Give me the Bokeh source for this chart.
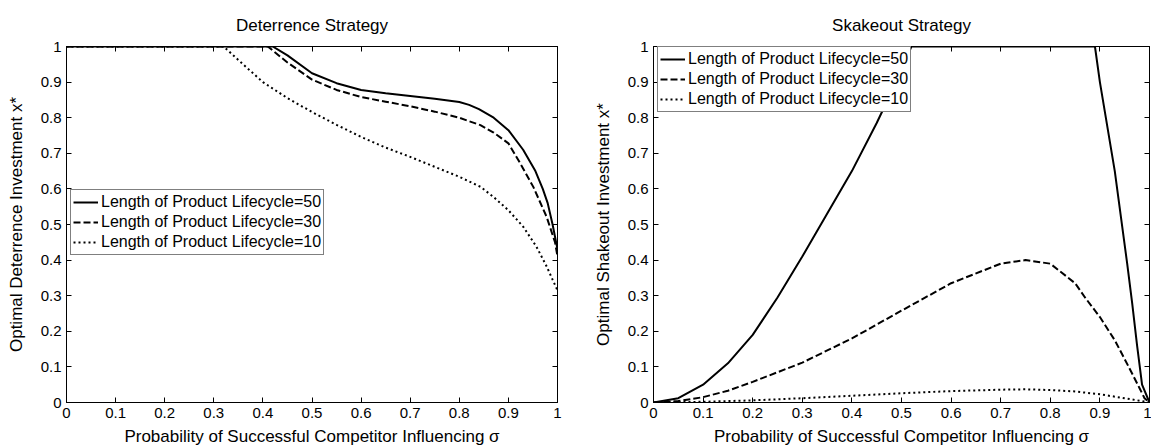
from bokeh.plotting import figure
from bokeh.layouts import row
from bokeh.models import LinearAxis, FixedTicker, NumeralTickFormatter, Legend, LegendItem, Range1d
from bokeh.embed import file_html
from bokeh.resources import INLINE

FONT = "Liberation Sans"

# ---- tick values ----
tick_values = [0, 0.1, 0.2, 0.3, 0.4, 0.5, 0.6, 0.7, 0.8, 0.9, 1.0]

# ---- Deterrence strategy ----
det_sigma_50 = [0, 0.42, 0.45, 0.5, 0.55, 0.6, 0.65, 0.7, 0.75, 0.8, 0.82, 0.84, 0.87, 0.9, 0.93, 0.955, 0.97, 0.98, 0.99, 1.0]
det_x_50 = [1, 1, 0.975, 0.925, 0.897, 0.878, 0.869, 0.861, 0.853, 0.844, 0.836, 0.824, 0.80, 0.765, 0.71, 0.65, 0.60, 0.56, 0.50, 0.43]

det_sigma_30 = [0, 0.41, 0.45, 0.5, 0.55, 0.6, 0.65, 0.7, 0.75, 0.8, 0.843, 0.87, 0.9, 0.924, 0.951, 0.978, 0.995, 1.0]
det_x_30 = [1, 1, 0.955, 0.907, 0.878, 0.858, 0.845, 0.832, 0.817, 0.80, 0.779, 0.758, 0.728, 0.672, 0.605, 0.521, 0.45, 0.41]

det_sigma_10 = [0, 0.32, 0.35, 0.4, 0.45, 0.5, 0.55, 0.6, 0.65, 0.7, 0.75, 0.8, 0.843, 0.87, 0.9, 0.93, 0.957, 0.978, 0.99, 1.0]
det_x_10 = [1, 1, 0.962, 0.90, 0.855, 0.816, 0.78, 0.746, 0.716, 0.69, 0.662, 0.634, 0.606, 0.577, 0.54, 0.494, 0.438, 0.382, 0.345, 0.315]

# ---- Shakeout strategy ----
sk_sigma_50 = [0, 0.05, 0.1, 0.15, 0.2, 0.25, 0.3, 0.35, 0.4, 0.45, 0.475, 0.5, 0.52, 0.89, 0.9, 0.93, 0.955, 0.965, 0.975, 0.985, 1.0]
sk_x_50 = [0, 0.012, 0.05, 0.11, 0.19, 0.295, 0.41, 0.53, 0.65, 0.785, 0.858, 0.935, 1.0, 1.0, 0.90, 0.65, 0.39, 0.28, 0.16, 0.05, 0]

sk_sigma_30 = [0, 0.05, 0.1, 0.15, 0.2, 0.3, 0.4, 0.5, 0.6, 0.7, 0.75, 0.8, 0.85, 0.87, 0.9, 0.93, 0.96, 0.98, 0.99, 1.0]
sk_x_30 = [0, 0.004, 0.015, 0.033, 0.058, 0.112, 0.18, 0.258, 0.335, 0.39, 0.40, 0.39, 0.335, 0.295, 0.24, 0.175, 0.095, 0.04, 0.012, 0]

sk_sigma_10 = [0, 0.1, 0.2, 0.3, 0.4, 0.5, 0.6, 0.7, 0.75, 0.8, 0.85, 0.9, 0.95, 0.98, 1.0]
sk_x_10 = [0, 0.002, 0.006, 0.012, 0.019, 0.026, 0.032, 0.036, 0.037, 0.035, 0.031, 0.023, 0.012, 0.005, 0]

labels = ["Length of Product Lifecycle=50", "Length of Product Lifecycle=30", "Length of Product Lifecycle=10"]
dashes = ["solid", "7 3", "2 3"]
xlabel = "Probability of Successful Competitor Influencing \u03c3"


def style_axis(ax, show_labels=True):
    ax.ticker = FixedTicker(ticks=tick_values)
    ax.formatter = NumeralTickFormatter(format="0.[0]")
    ax.major_tick_in = 5
    ax.major_tick_out = 0
    ax.minor_tick_in = 0
    ax.minor_tick_out = 0
    ax.axis_line_color = "black"
    ax.major_tick_line_color = "black"
    ax.major_label_text_font = FONT
    ax.axis_label_text_font = FONT
    ax.axis_label_text_font_style = "normal"
    ax.axis_label_text_font_size = "17px"
    ax.axis_label_text_color = "black"
    if show_labels:
        ax.major_label_text_color = "black"
        ax.major_label_text_font_size = "15px"
        ax.major_label_standoff = 5
    else:
        ax.major_label_text_color = None
        ax.major_label_text_font_size = "1px"
        ax.major_label_standoff = 0


def make_fig(title, ylabel, width, bl, br, series, legend_loc):
    p = figure(width=width, height=448, output_backend="svg", toolbar_location=None,
               x_range=Range1d(0, 1), y_range=Range1d(0, 1),
               min_border_left=bl, min_border_right=br, min_border_top=46, min_border_bottom=45,
               title=title)
    p.grid.visible = False
    p.outline_line_color = "black"
    p.background_fill_color = "white"
    p.border_fill_color = "white"
    p.title.align = "center"
    p.title.text_font = FONT
    p.title.text_font_size = "17px"
    p.title.text_font_style = "normal"
    p.title.text_color = "black"
    p.title.standoff = 23
    p.xaxis.axis_label = xlabel
    p.yaxis.axis_label = ylabel
    for ax in p.xaxis + p.yaxis:
        style_axis(ax)
    p.xaxis.axis_label_standoff = 6
    p.yaxis.axis_label_standoff = 12
    top = LinearAxis()
    right = LinearAxis()
    style_axis(top, False)
    style_axis(right, False)
    p.add_layout(top, "above")
    p.add_layout(right, "right")

    items = []
    for (sx, sy), lab, dash in zip(series, labels, dashes):
        r = p.line(sx, sy, line_color="black", line_width=2, line_dash=dash)
        items.append(LegendItem(label=lab, renderers=[r]))
    leg = Legend(items=items, location=legend_loc)
    leg.label_text_font = FONT
    leg.label_text_font_size = "16px"
    leg.label_text_color = "black"
    leg.label_height = 20
    leg.glyph_height = 20
    leg.glyph_width = 25
    leg.label_standoff = 3
    leg.spacing = 0
    leg.padding = 2
    leg.margin = 0
    leg.border_line_color = "black"
    leg.border_line_width = 1
    leg.background_fill_alpha = 1
    p.add_layout(leg)
    return p


p1 = make_fig("Deterrence Strategy", "Optimal Deterrence Investment x*", 580, 66, 23,
              [(det_sigma_50, det_x_50), (det_sigma_30, det_x_30), (det_sigma_10, det_x_10)], (4, 147))
p2 = make_fig("Skakeout Strategy", "Optimal Shakeout Investment x*", 571, 73, 2,
              [(sk_sigma_50, sk_x_50), (sk_sigma_30, sk_x_30), (sk_sigma_10, sk_x_10)], (4, 290))

layout = row(p1, p2)
open("out.html", "w").write(file_html(layout, INLINE))
